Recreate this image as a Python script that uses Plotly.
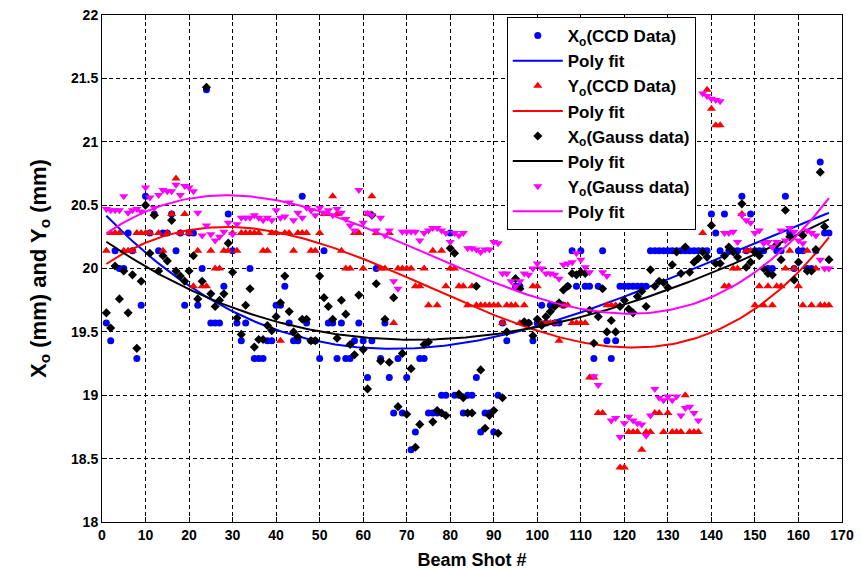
import numpy as np
import plotly.graph_objects as go

shots = list(range(1, 168))

x_ccd = [
19.57,19.43,20.14,20.0,20.0,20.28,20.14,19.29,19.71,20.57,
20.28,20.43,20.14,20.28,20.28,20.43,20.14,20.28,19.71,20.28,
20.28,19.71,20.0,21.41,19.57,19.57,19.57,19.86,20.43,20.14,
19.57,19.43,19.57,20.0,19.29,19.29,19.29,19.43,19.43,19.71,
19.71,19.86,19.57,19.43,19.43,20.57,19.57,19.43,19.43,19.29,
20.14,19.57,19.57,19.29,19.57,19.29,19.29,19.43,19.57,19.43,
19.14,19.43,20.0,19.29,19.57,19.14,18.86,19.29,18.86,19.14,
18.57,18.71,19.29,19.29,18.86,18.86,18.86,19.0,19.0,20.28,
19.0,19.0,18.86,19.0,19.0,19.14,18.71,18.86,18.86,18.71,
19.0,19.57,19.43,20.71,19.86,19.86,19.57,19.57,19.43,19.57,
19.71,19.57,19.71,19.57,19.57,19.71,19.86,20.14,19.86,20.14,
19.86,19.86,19.29,19.86,20.14,19.43,19.29,19.43,19.86,19.86,
19.86,19.86,19.86,19.86,19.86,20.14,20.14,20.14,20.14,20.14,
20.14,20.14,20.14,20.14,20.14,20.14,20.14,20.14,20.14,20.43,
20.28,20.14,20.43,20.14,20.14,20.14,20.57,20.14,20.43,20.14,
20.14,20.14,20.0,20.0,20.14,20.14,20.57,20.28,20.0,20.14,
20.14,20.0,20.0,20.14,20.84,20.28,20.28]

y_ccd = [
20.14,20.28,20.28,20.28,20.14,20.14,20.14,20.28,20.28,20.28,
20.28,20.43,20.28,20.14,20.28,20.43,20.71,20.28,20.43,20.28,
19.86,20.14,19.86,19.86,20.14,20.0,20.0,20.14,20.14,20.28,
20.14,20.28,20.28,20.28,20.28,20.28,20.14,20.14,20.28,20.28,
19.43,20.28,20.28,20.14,20.28,20.28,20.28,20.14,20.14,20.28,
20.43,20.43,20.57,20.43,20.14,20.0,20.0,20.28,20.28,20.0,
20.43,20.57,20.28,20.0,20.0,20.28,19.57,20.0,20.0,20.0,
20.0,19.86,19.86,20.0,19.71,20.14,19.71,20.14,19.86,20.0,
20.0,19.86,19.86,19.71,19.86,19.71,19.71,19.71,19.71,19.71,
19.71,19.57,19.71,19.71,19.71,19.57,19.71,19.57,19.86,19.86,
19.57,19.57,19.57,19.57,19.43,19.71,19.71,19.57,19.57,19.57,
19.57,19.14,19.14,18.86,18.86,19.71,19.71,19.71,18.43,18.43,
18.71,18.71,18.71,18.57,18.71,18.71,18.86,18.86,18.71,18.86,
18.71,18.71,18.71,19.0,18.71,18.71,18.71,20.28,21.41,21.26,
21.13,21.13,19.86,19.86,20.0,20.0,20.43,20.14,20.14,19.71,
19.86,19.71,19.86,19.71,19.86,19.86,20.0,20.14,20.0,19.86,
19.71,20.14,19.71,20.0,19.71,19.71,19.71]

x_gauss = [
19.65,19.53,20.02,19.76,19.98,19.65,19.95,19.37,19.90,20.50,
20.12,20.42,19.98,20.10,20.06,20.38,19.98,19.94,19.90,19.98,
20.10,19.76,19.90,21.43,19.80,19.70,19.75,19.80,20.20,19.97,
19.61,19.48,19.71,19.84,19.38,19.44,19.44,19.55,19.51,19.62,
19.73,19.94,19.66,19.50,19.46,19.60,19.60,19.43,19.43,19.94,
19.77,19.70,19.60,19.45,19.75,19.64,19.40,19.32,19.79,19.36,
19.05,20.42,19.88,19.27,19.60,19.26,19.77,18.91,19.33,18.85,
19.21,18.59,18.77,19.40,19.42,18.79,18.88,18.86,18.84,20.16,
20.12,19.01,18.98,18.86,18.86,19.86,19.20,18.74,18.84,18.88,
18.70,18.98,19.50,20.65,19.92,19.84,19.58,19.57,19.47,19.60,
19.55,19.62,19.66,19.70,19.73,19.83,19.86,19.96,19.95,19.97,
19.96,19.67,19.41,19.62,19.84,19.50,19.59,19.50,19.70,19.75,
19.68,19.65,19.78,19.82,19.70,19.99,19.86,19.90,19.89,19.85,
20.03,20.13,19.96,20.17,19.97,20.05,20.08,20.13,20.09,20.34,
20.04,20.04,20.10,20.17,20.13,20.09,20.51,20.01,20.05,20.13,
20.10,20.00,19.96,19.95,20.19,20.07,20.46,20.25,19.91,20.05,
20.26,19.98,19.98,20.15,20.76,20.33,20.07]

y_gauss = [
20.47,20.46,20.46,20.46,20.57,20.44,20.46,20.47,20.45,20.64,
20.56,20.48,20.58,20.62,20.61,20.61,20.66,20.58,20.65,20.64,
20.61,20.44,20.26,20.34,20.27,20.22,20.25,20.29,20.36,20.27,
20.35,20.40,20.40,20.40,20.42,20.40,20.38,20.40,20.38,20.46,
20.40,20.41,20.52,20.38,20.44,20.40,20.48,20.46,20.42,20.48,
20.44,20.46,20.42,20.47,20.44,20.39,20.34,20.30,20.62,20.36,
20.44,20.42,20.30,20.40,20.26,20.30,19.90,19.84,20.29,20.29,
20.29,20.29,20.22,20.28,20.30,20.32,20.32,20.30,20.28,20.21,
20.28,20.26,20.28,20.16,20.16,20.15,20.13,20.15,20.15,20.21,
20.20,19.96,19.96,19.90,19.86,19.90,19.96,19.95,20.00,20.04,
20.00,19.96,19.96,19.95,19.92,20.03,20.04,20.05,20.12,20.07,
20.01,19.97,19.15,19.08,19.97,19.94,18.80,18.82,18.67,18.78,
18.83,18.80,18.78,18.77,18.68,18.84,19.05,18.98,18.96,18.99,
18.96,18.99,18.84,18.90,18.91,18.86,18.80,21.38,21.36,21.34,
21.33,21.32,20.28,20.28,20.29,20.21,20.42,20.38,20.36,20.28,
20.30,20.20,20.21,20.17,20.21,20.30,20.22,20.32,20.29,20.22,
20.20,20.30,20.28,20.26,20.07,20.00,20.00]

series = [
    ("X<sub>o</sub>(CCD Data)", x_ccd, "#0000FF", "circle", 7),
    ("Y<sub>o</sub>(CCD Data)", y_ccd, "#FF0000", "triangle-up", 8),
    ("X<sub>o</sub>(Gauss data)", x_gauss, "#000000", "diamond", 7),
    ("Y<sub>o</sub>(Gauss data)", y_gauss, "#FF00FF", "triangle-down", 8),
]

FONT = "Arial, Liberation Sans, sans-serif"
fig = go.Figure()
xs = np.array(shots, dtype=float)
xfit = np.linspace(xs.min(), xs.max(), 200)
for name, vals, col, sym, size in series:
    fig.add_trace(go.Scatter(x=shots, y=vals, mode="markers", name=name,
                             marker=dict(color=col, symbol=sym, size=size, line=dict(width=0))))
    coef = np.polyfit(xs, np.array(vals), 3)
    fig.add_trace(go.Scatter(x=xfit, y=np.polyval(coef, xfit), mode="lines", name="Poly fit",
                             line=dict(color=col, width=2)))

axis_common = dict(showline=True, linecolor="black", linewidth=1, mirror="ticks",
                   ticks="inside", ticklen=5, tickcolor="black",
                   showgrid=True, gridcolor="black", gridwidth=1, griddash="4px,3px",
                   zeroline=False, automargin=False,
                   tickfont=dict(family=FONT, size=14, color="black", weight="bold"))

fig.update_xaxes(range=[0, 170], dtick=10, tick0=0,
                 title=dict(text="Beam Shot #", font=dict(family=FONT, size=18, color="black", weight="bold"), standoff=16),
                 **axis_common)
fig.update_yaxes(range=[18, 22], dtick=0.5, tick0=18,
                 title=dict(text="X<sub>o</sub> (mm) and Y<sub>o</sub> (mm)", font=dict(family=FONT, size=22, color="black", weight="bold"), standoff=18),
                 **axis_common)

fig.update_layout(
    width=861, height=570,
    margin=dict(l=102, r=19, t=15, b=48),
    paper_bgcolor="white", plot_bgcolor="white",
    font=dict(family=FONT, color="black"),
    legend=dict(x=0.547, y=0.996, xanchor="left", yanchor="top",
                bgcolor="white", bordercolor="black", borderwidth=1,
                font=dict(family=FONT, size=17, color="black", weight="bold"),
                tracegroupgap=0, itemwidth=50),
)

fig.write_html("out.html")
